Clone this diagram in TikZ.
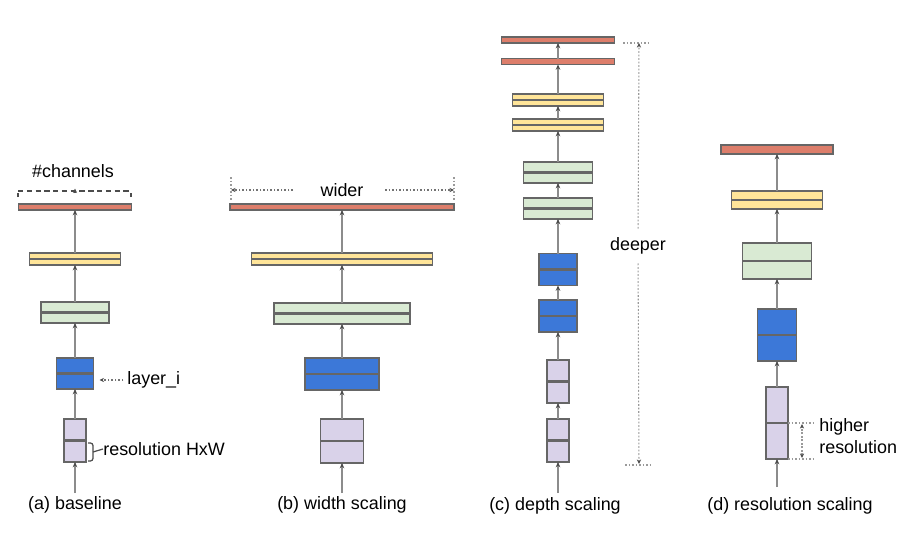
\documentclass[tikz,border=0pt]{standalone}
\usepackage{fontspec}
\setmainfont{Liberation Sans}
\usetikzlibrary{arrows.meta}
\newdimen\px \px=0.02cm
\definecolor{redL}{HTML}{DD7E6B}
\definecolor{yelL}{HTML}{FFE599}
\definecolor{grnL}{HTML}{D9EAD3}
\definecolor{bluD}{HTML}{3C78D8}
\definecolor{purL}{HTML}{D9D2E9}
\definecolor{edgeG}{HTML}{666666}
\definecolor{lineG}{HTML}{8C8C8C}
\definecolor{noteG}{HTML}{9A9A9A}
\tikzset{
	lay/.style={draw=edgeG, line width=0.6pt, inner sep=0pt, outer sep=0pt},
	mid/.style={path picture={\draw[edgeG, line width=1.2pt] (path picture bounding box.west) -- (path picture bounding box.east);}},
	redb/.style={lay, fill=redL},
	yelb/.style={lay, fill=yelL, mid},
	grnb/.style={lay, fill=grnL, mid},
	blub/.style={lay, fill=bluD, mid},
	purb/.style={lay, fill=purL, mid},
	conn/.style={draw=lineG, line width=0.7pt, -{Stealth[length=3pt,width=2.6pt,color=black!70]}},
	note/.style={font=\fontsize{10.2}{12.5}\selectfont, inner sep=0pt},
	dashnote/.style={draw=black!70, line width=0.6pt, dash pattern=on 3pt off 2pt},
	dotnote/.style={draw=noteG, line width=0.6pt, dash pattern=on 1pt off 1pt},
	tip/.style={-{Stealth[length=2.6pt,width=2.4pt,color=black!70]}},
}
\def\layer(#1)[#2](#3,#4)(#5,#6){\node[#2, minimum width=#5\px, minimum height=#6\px] (#1) at (#3,#4) {};}

\begin{document}
\begin{tikzpicture}[x=0.02cm, y=-0.02cm]
		\useasboundingbox (0,0) rectangle (921,538);
		
		%%%%% (a) baseline %%%%%
		\layer(a1)[purb](75,440.5)(22,43)
		\layer(a2)[blub](75,373.5)(37,31)
		\layer(a3)[grnb](75,312.5)(68,21)
		\layer(a4)[yelb](75,259)(91,12)
		\layer(a5)[redb](75,207)(113,6)
		\coordinate (a0) at (75,493);
		\foreach \i/\j in {0/1,1/2,2/3,3/4,4/5} \draw[conn] (a\i) -- (a\j);
		
		\node[note] (chan) at (73,171) {\#channels};
		\coordinate (chL) at (18,197);
		\coordinate (chR) at (131,197);
		\draw[dashnote] (18,191) -- (131,191);
		\draw[draw=black!70, line width=0.6pt] (chL) -- (18,192.5);
		\draw[draw=black!70, line width=0.6pt] (chR) -- (131,192.5);
		\draw[tip, draw=black!70, line width=0.6pt] (75,193) -- (75,188.5);
		
		\node[note, anchor=west] (lyr) at (127,380) {layer\_i};
		\coordinate (lyrTip) at (99.5,380);
		\draw[dotnote, tip, draw=black!55] ([xshift=-2pt]lyr.west) -- (lyrTip);
		
		\draw[draw=black!70, line width=0.7pt, rounded corners=1.5pt] (88,443) -- (93,443) -- (93,461) -- (88,461);
		\node[note, anchor=west] (resl) at (103,449) {resolution HxW};
		\draw[draw=black!70, line width=0.7pt] (93,452) -- (resl.west);
		
		\node[note] (capA) at (75,505) {(a) baseline};
		
		%%%%% (b) width scaling %%%%%
		\layer(b1)[purb](342,441)(43,44)
		\layer(b2)[blub](342,374)(74,32)
		\layer(b3)[grnb](342,313.5)(136,21)
		\layer(b4)[yelb](342,259)(181,12)
		\layer(b5)[redb](342,207)(224,6)
		\coordinate (b0) at (342,493);
		\foreach \i/\j in {0/1,1/2,2/3,3/4,4/5} \draw[conn] (b\i) -- (b\j);
		
		\node[note] (wid) at (342,190) {wider};
		\coordinate (widL) at (231,190);
		\coordinate (widR) at (454,190);
		\draw[dotnote] (231,177) -- (231,200);
		\draw[dotnote] (454,177) -- (454,200);
		\draw[dotnote, tip, draw=black!55] (293,190) -- (widL);
		\draw[dotnote, tip, draw=black!55] (385,190) -- (widR);
		
		\node[note] (capB) at (342,504.5) {(b) width scaling};
		
		%%%%% (c) depth scaling %%%%%
		\layer(c1)[purb](558,440.5)(22,43)
		\layer(c2)[purb](558,381.5)(22,43)
		\layer(c3)[blub](558,316)(38,32)
		\layer(c4)[blub](558,269.5)(38,32)
		\layer(c5)[grnb](558,208.5)(69,21)
		\layer(c6)[grnb](558,172.5)(69,21)
		\layer(c7)[yelb](558,125)(91,12)
		\layer(c8)[yelb](558,100)(91,12)
		\layer(c9)[redb](558,61.5)(113,6)
		\layer(c10)[redb](558,40)(113,6)
		\coordinate (c0) at (558,493);
		\foreach \i/\j in {0/1,1/2,2/3,3/4,4/5,5/6,6/7,7/8,8/9,9/10} \draw[conn] (c\i) -- (c\j);
		
		\node[note] (dpr) at (638,246) {deeper};
		\coordinate (dTop) at (639,43);
		\coordinate (dBot) at (639,464);
		\draw[dotnote] (623,43) -- (650,43);
		\draw[dotnote] (625,465) -- (652,465);
		\draw[dotnote, tip, shorten <=5pt] (dpr) -- (dTop);
		\draw[dotnote, tip, shorten <=5pt] (dpr) -- (dBot);
		
		\node[note] (capC) at (555,506) {(c) depth scaling};
		
		%%%%% (d) resolution scaling %%%%%
		\layer(d1)[purb](777,423)(22,72)
		\layer(d2)[blub](777,335)(39,52)
		\layer(d3)[grnb](777,261)(69,36)
		\layer(d4)[yelb](777,200)(91,18)
		\layer(d5)[redb](777,149.5)(112,9)
		\coordinate (d0) at (777,487);
		\foreach \i/\j in {0/1,1/2,2/3,3/4,4/5} \draw[conn] (d\i) -- (d\j);
		
		\coordinate (hTop) at (815,423);
		\coordinate (hBot) at (815,459);
		\draw[dotnote] (d1.east) -- (hTop);
		\draw[dotnote] (d1.south east) -- (hBot);
		\draw[dotnote, {Stealth[length=2.6pt,width=2.4pt,color=black!70]}-{Stealth[length=2.6pt,width=2.4pt,color=black!70]}] (802,458) -- (802,424);
		\node[note, anchor=west, align=left] (hres) at (819,436) {higher\\resolution};
		
		\node[note] (capD) at (790,505.5) {(d) resolution scaling};
		
	\end{tikzpicture}
\end{document}
